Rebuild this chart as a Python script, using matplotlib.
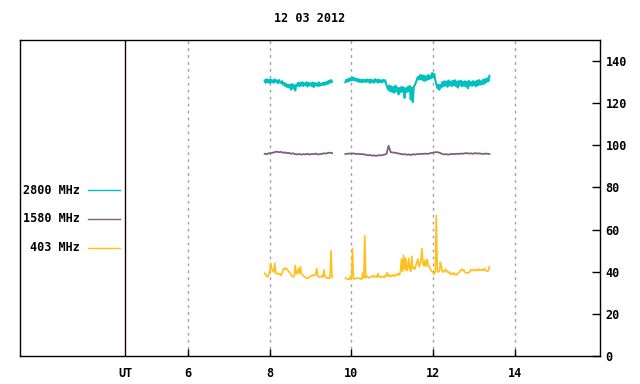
import numpy as np
import matplotlib
matplotlib.use("Agg")
import matplotlib.pyplot as plt

title = "12 03 2012"
ut_pos = 4.459
xticks = [6, 8, 10, 12, 14]
yticks = [0, 20, 40, 60, 80, 100, 120, 140]
labels = ["2800 MHz", "1580 MHz", "403 MHz"]
colors = ["#00c0c0", "#7f5f7f", "#ffc020"]

seg1_range = (7.875, 9.525)
seg2_range = (9.85, 13.375)

# 2800 MHz
c1 = [130.8,129.7,131.4,130.0,131.1,129.6,131.2,130.1,130.9,129.7,131.3,130.2,130.8,129.5,131.0,129.9,
      129.6,130.5,128.8,129.7,128.2,129.2,127.7,128.7,
      127.4,128.8,126.4,129.1,127.0,128.5,126.0,128.9,
      128.3,129.8,128.0,129.6,128.4,130.0,128.1,129.4,128.6,129.9,127.9,129.7,128.5,129.5,128.2,129.8,127.6,129.6,128.4,129.4,128.1,129.9,128.3,129.3,128.7,129.7,
      128.6,129.8,128.9,130.2,129.2,130.7,129.7,131.0,130.1]
c2 = [130.0,131.2,130.2,131.5,130.6,131.8,130.8,132.2,131.0,131.9,
      130.7,131.6,130.3,131.4,130.1,131.1,129.9,131.2,130.2,131.0,
      130.0,131.3,130.3,131.1,129.6,131.2,130.1,130.9,129.8,131.4,
      130.2,131.0,129.7,131.2,130.1,130.8,129.9,131.1,130.3,130.9,
      129.0,127.5,
      126.4,128.4,125.6,128.0,125.4,127.6,125.0,128.3,125.8,127.4,
      124.2,127.2,125.2,127.8,125.5,127.5,122.5,127.0,125.4,127.7,
      125.7,128.2,121.8,127.3,120.5,127.9,
      128.5,129.8,131.2,132.5,131.2,133.3,
      131.4,133.3,130.8,133.0,130.6,132.8,131.1,133.4,131.4,133.1,131.8,134.4,132.4,133.9,
      131.0,129.0,127.2,128.8,126.4,128.7,
      127.6,130.0,128.0,130.4,128.4,130.3,127.8,130.8,128.5,130.2,
      128.1,130.6,128.6,130.9,128.2,130.3,127.4,130.5,128.5,130.7,
      128.0,130.1,128.3,130.4,127.9,130.2,127.1,130.6,128.4,130.0,
      128.2,130.5,128.6,130.2,128.0,130.7,128.5,131.0,128.8,130.4,
      129.0,131.2,129.2,131.4,
      130.0,131.8,130.4,133.0]

# 1580 MHz
p1 = [96.0,95.8,96.3,96.2,96.5,96.8,97.0,96.7,96.9,96.5,
      96.6,96.3,96.4,96.0,96.2,95.8,95.7,95.9,95.6,95.8,
      95.7,96.0,95.6,95.9,95.8,96.1,95.7,95.8,96.0,96.2,
      96.1,96.4,96.5,96.3]
p2 = [95.9,96.0,96.1,96.0,96.2,95.9,96.0,95.8,95.9,95.7,
      95.5,95.3,95.4,95.1,95.2,95.0,95.3,95.2,95.4,95.6,
      96.0, 99.8,
      96.8,96.6,96.5,96.3,96.1,95.9,95.7,95.8,95.5,95.7,95.4,95.8,95.6,95.9,
      95.8,96.0,95.9,96.1,95.9,96.2,96.4,96.6,
      96.8,96.7,96.4,
      95.9,95.7,95.8,95.6,95.8,95.9,95.8,96.0,95.9,96.1,96.0,96.2,
      96.3,96.1,96.2,96.0,96.3,96.1,96.2,96.0,95.9,96.1,96.0,95.9]

# 403 MHz
o1 = [39.3,38.5,37.8,37.6,38.5,40.0,44.0,41.5,40.5,39.8,
      44.0,39.5,39.0,39.2,38.9,39.0,38.2,39.4,40.5,41.6,
      41.2,41.8,41.0,40.6,39.8,39.2,38.5,37.8,37.6,37.8,
      43.0,39.0,39.4,41.5,39.2,42.5,39.0,38.6,38.0,37.8,
      37.2,37.0,36.8,37.2,37.5,37.8,38.2,38.0,38.6,38.3,
      38.5,41.6,38.2,37.5,37.4,37.6,38.2,37.5,41.0,37.8,
      37.2,37.0,37.3,36.8,37.4,50.0,37.2]
o2 = [37.0,36.8,36.4,36.5,36.4,37.8,36.6,51.0,36.8,36.5,
      36.7,37.0,36.9,37.0,36.8,36.5,36.6,39.5,37.0,57.0,
      37.2,38.0,37.5,37.0,37.3,37.6,37.8,38.2,37.5,37.7,
      38.0,37.4,39.2,37.6,37.3,37.8,37.5,37.9,37.2,38.2,
      37.8,39.6,37.9,38.5,37.6,38.2,38.0,38.6,37.8,38.4,
      38.8,38.3,39.2,38.5,40.5,46.0,40.0,47.8,41.0,46.5,
      40.5,42.0,46.4,41.0,40.2,47.3,41.5,42.0,41.2,43.0,
      44.5,46.0,42.5,43.2,45.8,51.0,43.5,42.8,45.4,42.6,
      45.9,43.5,42.2,41.8,40.5,40.0,39.5,38.8,40.2,66.7,
      40.5,39.8,40.3,44.5,42.0,40.2,39.8,40.5,41.2,39.9,
      40.3,39.5,39.8,38.8,39.2,38.8,39.5,38.6,39.0,38.5,
      39.2,39.6,40.0,40.8,41.2,40.5,40.9,39.8,39.5,39.4,
      39.6,39.5,40.4,41.0,40.6,41.0,40.8,40.4,41.2,40.8,
      40.6,41.3,40.7,40.9,41.0,40.5,41.6,40.8,40.4,40.2,
      40.5,42.5]

series = [(c1, c2), (p1, p2), (o1, o2)]
widths = [1.5, 1.3, 1.2]

fig = plt.figure(figsize=(6.4, 3.84), dpi=100)
ax = fig.add_axes([20/640, 28/384, 580/640, 316/384])
ax.set_xlim(1.89, 16.08)
ax.set_ylim(0, 150)

font = dict(family="DejaVu Sans Mono", fontweight="bold", fontsize=8.5)

for x in xticks:
    ax.axvline(x, color="#a0a0a0", lw=1, ls=(0, (2, 3)), zorder=1)
ax.axvline(ut_pos, color="#200000", lw=1, zorder=2)

for (a, b), col, w in zip(series, colors, widths):
    ta = np.linspace(seg1_range[0], seg1_range[1], len(a))
    tb = np.linspace(seg2_range[0], seg2_range[1], len(b))
    ax.plot(ta, a, color=col, lw=w, zorder=3)
    ax.plot(tb, b, color=col, lw=w, zorder=3)

ys = [0.525, 0.434, 0.342]
for lab, col, y in zip(labels, colors, ys):
    ax.text(0.104, y, lab, transform=ax.transAxes, ha="right", va="center", **font)
    ax.plot([0.117, 0.172], [y, y], color=col, lw=1, transform=ax.transAxes)

ax.set_xticks(xticks)
ax.set_xticklabels([str(x) for x in xticks], **font)
ax.tick_params(axis="x", direction="in", length=5, pad=8, width=1)
ax.text(ut_pos, -0.035, "UT", transform=ax.get_xaxis_transform(), ha="center", va="top", **font)

ax.yaxis.tick_right()
ax.set_yticks(yticks)
ax.set_yticklabels([str(y) for y in yticks], **font)
ax.tick_params(axis="y", direction="in", length=6, pad=4, width=1)

for s in ax.spines.values():
    s.set_linewidth(1)
    s.set_color("black")

fig.text(310/640, 1 - 19/384, title, ha="center", va="center", **font)

fig.savefig("out.png", dpi=100)
